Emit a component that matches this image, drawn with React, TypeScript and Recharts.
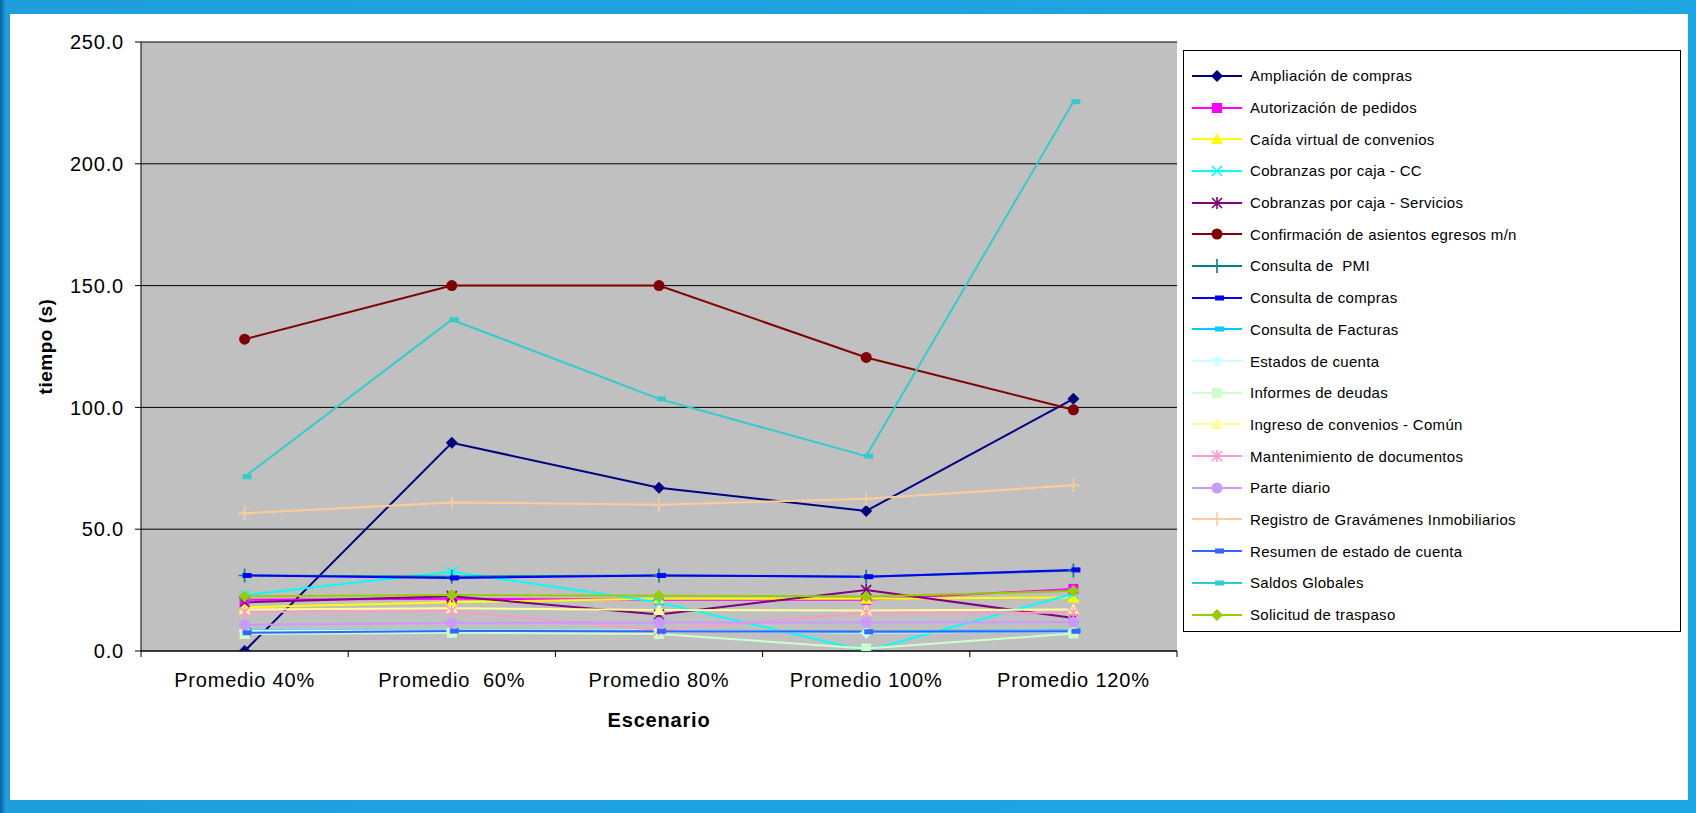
import React from "react";
import {
  LineChart,
  Line,
  XAxis,
  YAxis,
  CartesianGrid,
  Legend,
} from "recharts";

// categories + tick labels
const categories = [
  "Promedio 40%",
  "Promedio  60%",
  "Promedio 80%",
  "Promedio 100%",
  "Promedio 120%",
];
const yTicks = [0, 50, 100, 150, 200, 250];

// series values (s)
const ampliacion = [0, 85.5, 67, 57.5, 103.5];
const autorizacion = [21, 21.5, 21, 21, 25.5];
const caidaVirtual = [18, 20, 21.5, 21.5, 22];
const cobranzasCC = [23, 32.5, 20, 0, 23.5];
const cobranzasServicios = [20, 22.5, 15, 25, 13.5];
const confirmacion = [128, 150, 150, 120.5, 99];
const consultaPMI = [31, 30.5, 31, 30.5, 33];
const consultaCompras = [31, 30, 31, 30.5, 33.3];
const consultaFacturas = [8.5, 8.5, 8.5, 8, 8.5];
const estadosCuenta = [8.3, 8.4, 8.5, 7.5, 8];
const informesDeudas = [7, 7.5, 7, 1, 7.2];
const ingresoConvenios = [17, 17.6, 16.8, 16.6, 17];
const mantenimiento = [16, 16.4, 8.5, 15.7, 15.7];
const parteDiario = [10.7, 11.5, 11.7, 11.7, 11.9];
const registroGravamenes = [56.5, 61, 60, 62.5, 68];
const resumenEstado = [7.5, 8.2, 8.1, 7.9, 8.1];
const saldosGlobales = [71.5, 136, 103.5, 80, 225.5];
const solicitudTraspaso = [22.4, 23, 22.7, 22.4, 24.6];

type Shape =
  | "diamond"
  | "square"
  | "triangle"
  | "x"
  | "star"
  | "circle"
  | "plus"
  | "dash";

const SERIES: { name: string; values: number[]; color: string; shape: Shape }[] = [
  { name: "Ampliación de compras", values: ampliacion, color: "#000080", shape: "diamond" },
  { name: "Autorización de pedidos", values: autorizacion, color: "#FF00FF", shape: "square" },
  { name: "Caída virtual de convenios", values: caidaVirtual, color: "#FFFF00", shape: "triangle" },
  { name: "Cobranzas por caja - CC", values: cobranzasCC, color: "#00FFFF", shape: "x" },
  { name: "Cobranzas por caja - Servicios", values: cobranzasServicios, color: "#800080", shape: "star" },
  { name: "Confirmación de asientos egresos m/n", values: confirmacion, color: "#800000", shape: "circle" },
  { name: "Consulta de  PMI", values: consultaPMI, color: "#008080", shape: "plus" },
  { name: "Consulta de compras", values: consultaCompras, color: "#0000FF", shape: "dash" },
  { name: "Consulta de Facturas", values: consultaFacturas, color: "#00CCFF", shape: "dash" },
  { name: "Estados de cuenta", values: estadosCuenta, color: "#CCFFFF", shape: "diamond" },
  { name: "Informes de deudas", values: informesDeudas, color: "#CCFFCC", shape: "square" },
  { name: "Ingreso de convenios - Común", values: ingresoConvenios, color: "#FFFF99", shape: "triangle" },
  { name: "Mantenimiento de documentos", values: mantenimiento, color: "#FF99CC", shape: "star" },
  { name: "Parte diario", values: parteDiario, color: "#CC99FF", shape: "circle" },
  { name: "Registro de Gravámenes Inmobiliarios", values: registroGravamenes, color: "#FFCC99", shape: "plus" },
  { name: "Resumen de estado de cuenta", values: resumenEstado, color: "#3366FF", shape: "dash" },
  { name: "Saldos Globales", values: saldosGlobales, color: "#33CCCC", shape: "dash" },
  { name: "Solicitud de traspaso", values: solicitudTraspaso, color: "#99CC00", shape: "diamond" },
];

const data = categories.map((cat, i) => {
  const row: Record<string, string | number> = { cat };
  SERIES.forEach((s, k) => {
    row[`s${k}`] = s.values[i];
  });
  return row;
});

// layout
const W = 1696;
const H = 813;
const PLOT_LEFT = 141;
const PLOT_RIGHT = 1177;
const PLOT_TOP = 42;
const PLOT_BOTTOM = 651;
const Y_AXIS_W = 80;
const X_AXIS_H = 40;
const BAND = (PLOT_RIGHT - PLOT_LEFT) / categories.length;
const FONT = "'Liberation Sans', Arial, sans-serif";

function Marker({ cx, cy, shape, color }: { cx: number; cy: number; shape: Shape; color: string }) {
  if (cx == null || cy == null) return null;
  switch (shape) {
    case "diamond":
      return (
        <polygon
          points={`${cx},${cy - 6} ${cx + 6},${cy} ${cx},${cy + 6} ${cx - 6},${cy}`}
          fill={color}
        />
      );
    case "square":
      return <rect x={cx - 5} y={cy - 5} width={10} height={10} fill={color} />;
    case "triangle":
      return (
        <polygon
          points={`${cx},${cy - 6} ${cx + 6},${cy + 5} ${cx - 6},${cy + 5}`}
          fill={color}
        />
      );
    case "x":
      return (
        <path
          d={`M${cx - 5},${cy - 5}L${cx + 5},${cy + 5}M${cx - 5},${cy + 5}L${cx + 5},${cy - 5}`}
          stroke={color}
          strokeWidth={1.6}
        />
      );
    case "star":
      return (
        <path
          d={`M${cx - 5},${cy - 5}L${cx + 5},${cy + 5}M${cx - 5},${cy + 5}L${cx + 5},${cy - 5}M${cx},${cy - 6}L${cx},${cy + 6}`}
          stroke={color}
          strokeWidth={1.6}
        />
      );
    case "circle":
      return <circle cx={cx} cy={cy} r={5.5} fill={color} />;
    case "plus":
      return (
        <path
          d={`M${cx - 6},${cy}L${cx + 6},${cy}M${cx},${cy - 7}L${cx},${cy + 7}`}
          stroke={color}
          strokeWidth={1.6}
        />
      );
    case "dash":
      return <rect x={cx - 2} y={cy - 2.5} width={9} height={5} fill={color} />;
  }
  return null;
}

function XTick(props: any) {
  const { x, payload, index } = props;
  const left = x - BAND / 2;
  return (
    <g>
      <line x1={left} y1={PLOT_BOTTOM} x2={left} y2={PLOT_BOTTOM + 6} stroke="#000" />
      {index === categories.length - 1 && (
        <line x1={x + BAND / 2} y1={PLOT_BOTTOM} x2={x + BAND / 2} y2={PLOT_BOTTOM + 6} stroke="#000" />
      )}
      <text
        x={x}
        y={PLOT_BOTTOM + 36}
        textAnchor="middle"
        fontSize={20}
        letterSpacing={0.8}
        fontFamily={FONT}
        fill="#000"
        style={{ whiteSpace: "pre" }}
      >
        {payload.value}
      </text>
    </g>
  );
}

function XTitle() {
  return (
    <text
      x={(PLOT_LEFT + PLOT_RIGHT) / 2}
      y={727}
      textAnchor="middle"
      fontSize={20}
      letterSpacing={0.8}
      fontWeight="bold"
      fontFamily={FONT}
      fill="#000"
    >
      Escenario
    </text>
  );
}

function YTitle() {
  const cx = 52;
  const cy = (PLOT_TOP + PLOT_BOTTOM) / 2;
  return (
    <text
      x={cx}
      y={cy}
      transform={`rotate(-90 ${cx} ${cy})`}
      textAnchor="middle"
      fontSize={19}
      letterSpacing={0.5}
      fontWeight="bold"
      fontFamily={FONT}
      fill="#000"
    >
      tiempo (s)
    </text>
  );
}

function LegendBox() {
  return (
    <div
      style={{
        boxSizing: "border-box",
        width: "100%",
        height: "100%",
        border: "1px solid #000",
        background: "#fff",
        padding: "9px 0 0 6px",
        fontFamily: FONT,
        fontSize: 15,
      }}
    >
      {SERIES.map((s) => (
        <div key={s.name} style={{ display: "flex", alignItems: "center", height: 31.7 }}>
          <svg width={60} height={20} style={{ flex: "none" }}>
            <line x1={2} y1={10} x2={52} y2={10} stroke={s.color} strokeWidth={2} />
            <Marker cx={27} cy={10} shape={s.shape} color={s.color} />
          </svg>
          <span style={{ whiteSpace: "pre", letterSpacing: 0.3 }}>{s.name}</span>
        </div>
      ))}
    </div>
  );
}

export default function App() {
  return (
    <div
      style={{
        position: "relative",
        width: W,
        height: H,
        background: "linear-gradient(90deg, #0b5fa0 0px, #1e9fdc 6px, #1ea6e2 100%)",
        overflow: "hidden",
      }}
    >
      <style>{`body{margin:0}`}</style>
      <div
        style={{
          position: "absolute",
          left: 10,
          top: 14,
          width: W - 18,
          height: H - 27,
          background: "#fff",
        }}
      />
      <div style={{ position: "absolute", left: 0, top: 0 }}>
        <LineChart
          width={W}
          height={H}
          data={data}
          margin={{
            top: PLOT_TOP,
            left: PLOT_LEFT - Y_AXIS_W,
            right: W - PLOT_RIGHT,
            bottom: H - PLOT_BOTTOM - X_AXIS_H,
          }}
        >
          <CartesianGrid
            vertical={false}
            horizontal
            stroke="#000"
            fill="#C0C0C0"
            fillOpacity={1}
          />
          <XAxis
            dataKey="cat"
            height={X_AXIS_H}
            padding={{ left: BAND / 2, right: BAND / 2 }}
            axisLine={{ stroke: "#000" }}
            tickLine={false}
            tick={<XTick />}
            interval={0}
            label={<XTitle />}
          />
          <YAxis
            width={Y_AXIS_W}
            domain={[0, 250]}
            ticks={yTicks}
            allowDataOverflow
            tickFormatter={(v: number) => v.toFixed(1)}
            tick={{ fontSize: 20, letterSpacing: 0.8, fontFamily: FONT, fill: "#000" }}
            tickSize={6}
            tickMargin={11}
            axisLine={{ stroke: "#000" }}
            tickLine={{ stroke: "#000" }}
            label={<YTitle />}
          />
          <YAxis
            yAxisId="frame"
            orientation="right"
            width={0}
            tick={false}
            tickLine={false}
            axisLine={{ stroke: "#808080", strokeWidth: 2 }}
          />
          <Legend
            layout="horizontal"
            verticalAlign="middle"
            align="center"
            content={<LegendBox />}
            wrapperStyle={{ left: 1183, top: 50, width: 498, height: 582 }}
          />
          {SERIES.map((s, k) => (
            <Line
              key={s.name}
              name={s.name}
              dataKey={`s${k}`}
              type="linear"
              stroke={s.color}
              strokeWidth={2}
              isAnimationActive={false}
              activeDot={false}
              dot={(p: any) => (
                <Marker key={`${k}-${p.index}`} cx={p.cx} cy={p.cy} shape={s.shape} color={s.color} />
              )}
            />
          ))}
        </LineChart>
      </div>
    </div>
  );
}
